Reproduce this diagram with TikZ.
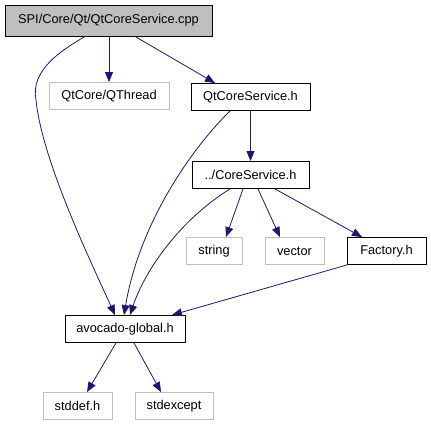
\documentclass[tikz,border=0pt]{standalone}
\usepackage{fontspec}
\setmainfont{Liberation Sans}
\usetikzlibrary{arrows.meta}
\definecolor{edgeblue}{HTML}{191970}
\definecolor{graybd}{HTML}{BFBFBF}
\tikzset{
  box/.style={draw=black, line width=0.9pt, fill=white, minimum height=27pt, inner sep=0pt, font=\fontsize{12.8}{14}\selectfont},
  extbox/.style={draw=graybd, line width=0.9pt, fill=white, minimum height=27pt, inner sep=0pt, font=\fontsize{12.8}{14}\selectfont},
  rootbox/.style={draw=black, line width=0.9pt, fill=graybd, minimum height=31pt, inner sep=0pt, font=\fontsize{12.8}{14}\selectfont},
  dep/.style={draw=edgeblue, line width=0.8pt, -{Triangle[length=10pt,width=8pt]}}
}
\begin{document}
\begin{tikzpicture}[x=1pt,y=-1pt]
\useasboundingbox (0,0) rectangle (431,427);
\node[rootbox, minimum width=207pt] (root) at (108.5,20.5) {SPI/Core/Qt/QtCoreService.cpp};
\node[extbox, minimum width=120pt] (qthread) at (109,96) {QtCore/QThread};
\node[box, minimum width=119pt] (qcs) at (250.5,97) {QtCoreService.h};
\node[box, minimum width=117pt] (cs) at (250.5,175) {../CoreService.h};
\node[extbox, minimum width=56pt] (string) at (214,251) {string};
\node[extbox, minimum width=59pt] (vector) at (294.5,251) {vector};
\node[box, minimum width=79pt] (factory) at (386.5,251) {Factory.h};
\node[box, minimum width=120pt] (avo) at (125,329) {avocado-global.h};
\node[extbox, minimum width=69pt] (stddef) at (77.5,406) {stddef.h};
\node[extbox, minimum width=78pt] (stdexcept) at (174,406) {stdexcept};

\draw[dep] (root.south -| 85,0) .. controls (62,50) and (30,70) .. (36,100) .. controls (42,160) and (90,260) .. (avo.north -| 115,0);
\draw[dep] (root.south -| 109,0) -- (qthread.north);
\draw[dep] (root.south -| 135,0) -- (qcs.north -| 215,0);
\draw[dep] (qcs.south -| 250.5,0) -- (cs.north -| 250.5,0);
\draw[dep] (qcs.south -| 230,0) .. controls (195,145) and (140,220) .. (avo.north -| 124,0);
\draw[dep] (cs.south -| 243,0) -- (string.north -| 226,0);
\draw[dep] (cs.south -| 258,0) -- (vector.north -| 280,0);
\draw[dep] (cs.south -| 275,0) -- (factory.north -| 362,0);
\draw[dep] (cs.south -| 230,0) .. controls (180,220) and (145,270) .. (avo.north -| 130,0);
\draw[dep] (factory.south -| 347,0) -- (avo.north -| 172,0);
\draw[dep] (avo.south -| 116,0) -- (stddef.north -| 87,0);
\draw[dep] (avo.south -| 134,0) -- (stdexcept.north -| 161,0);
\end{tikzpicture}
\end{document}
